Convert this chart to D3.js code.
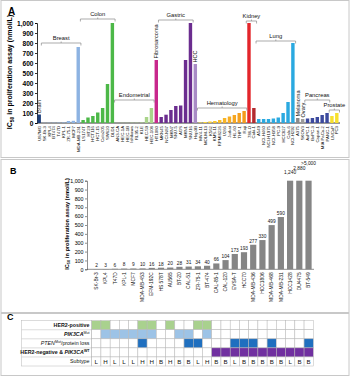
<!DOCTYPE html>
<html><head><meta charset="utf-8">
<script src="https://cdn.jsdelivr.net/npm/d3@7"></script>
<style>body{margin:0;background:#fff}svg{display:block;font-family:"Liberation Sans",Arial,sans-serif}</style>
</head><body><svg id="c" width="350" height="376"></svg>
<script>
// ---------------- Panel A data ----------------
const tissuesA = ["Brain","Breast","Colon","Endometrial","Fibrosarcoma","Gastric","HCC","Hematology","Kidney","Lung","Melanoma","Ovary","Pancreas","Prostate"];
const tissueCountsA = [1,8,7,8,1,7,1,10,2,8,1,1,5,2];
const tissueColorsA = [["#1d3f7c"],["#8db3e2"],["#4cb848"],["#a9d48a"],["#c8288c"],["#6b2d8f"],["#a98bc6"],
  ["#fce43a","#fbd935","#fad031","#f9c72d","#f8bd29","#f7b426","#f7ad23","#f6a620","#f5a01e","#f49a1c"],
  ["#e3262b","#b42a2f"],["#2aa9e0"],["#8a8a8a"],["#9b9b9b"],["#3c4a9e"],["#f7e02d"]];
const cellLinesA = ["U87MG",
  "SK-Br-3","KPL4","BT474","T47D","KPL-1","ZR-75-1","MCF7","MDA-MB-231",
  "LS174T","HT29","HCT116","HCT-15","Colo205","SW620","DLD1",
  "AN3-CA","HEC-1A","HEC-1B","Ishikawa","RL95-2","KLE","HEC-59","HEC-108",
  "HT1080",
  "MKN45","NCI-N87","MKN7","SNU-5","AGS","MKN1","SNU16",
  "Hep3B",
  "MV4-11","MOLM-13","K562","KMS-11","RPMI8226","U266","Jurkat","HL-60","THP-1","Raji",
  "786-O","Caki-1",
  "A549","NCI-H460","NCI-H1975","NCI-H358","PC-9","HCC827","Calu-6","NCI-H292",
  "A375","SKOV3",
  "AsPC-1","BxPC-3","Capan-1","MIA PaCa-2","PANC-1",
  "LNCaP","PC3"];
const valuesA = [85,
  2,3,3,4,5,20,22,760,
  30,55,70,105,150,390,1000,
  1,2,2,3,3,5,60,150,
  630,
  60,83,130,170,175,630,1000,
  590,
  5,10,15,20,30,50,65,80,100,120,
  1000,150,
  40,40,40,45,55,100,210,800,
  50,40,
  45,50,60,80,100,
  70,100];
const yTicksA = [0,100,200,300,400,500,600,700,800,900,1000];

// ---------------- Panel B data ----------------
const cellLinesB = ["SK-Br-3","KPL4","T47D","KPL-1","MCF7","MDA-MB-453","EFM-192C","HS 578T","AU565","BT-20","CAL-51","ZR-75-1","BT-474","CAL-85-1","CAL-120","EVSA-T","HCC70","MDA-MB-436","HCC1806","MDA-MB-468","MDA-MB-231","HCC1428","DU4475","BT-549"];
const valuesB = [2,3,6,8,9,10,16,18,20,28,31,34,40,66,104,173,193,277,330,499,590,1240,2880,5000];
const valueLabelsB = ["2","3","6","8","9","10","16","18","20","28","31","34","40","66","104","173","193","277","330","499","590","1,240","2,880",">5,000"];
const yTicksB = [0,100,200,300,400,500,600,700,800,900,1000];

// ---------------- Panel C data ----------------
const her2Positive = [1,1,0,0,0,1,1,0,1,0,0,1,1,0,0,0,0,0,0,0,0,0,0,0];
const pik3caMut    = [0,1,1,1,1,1,1,0,0,1,1,0,1,0,0,0,0,0,0,0,0,0,0,0];
const ptenLoss     = [0,0,0,0,0,1,0,0,0,0,1,1,0,0,0,1,1,1,0,1,0,0,0,1];
const her2NegWT    = [0,0,0,0,0,0,0,0,0,0,0,0,0,1,1,1,1,1,1,1,1,1,1,1];
const subtypes     = ["L","H","L","L","L","H","H","B","H","B","B","L","H","B","B","L","B","B","B","B","B","L","B","B"];

const svg = d3.select("#c");
const fmt = d3.format(",");

// frames
svg.append("rect").attr("x",1).attr("y",0.5).attr("width",348).attr("height",157).attr("fill","none").attr("stroke","#c8c8c8");
svg.append("rect").attr("x",1).attr("y",159.5).attr("width",348).attr("height",153).attr("fill","none").attr("stroke","#c8c8c8");
svg.append("rect").attr("x",1).attr("y",313.5).attr("width",348).attr("height",62).attr("fill","none").attr("stroke","#c8c8c8");

// panel letters
svg.append("text").attr("x",8).attr("y",15).attr("font-size",10).attr("font-weight","bold").text("A");
svg.append("text").attr("x",10).attr("y",174).attr("font-size",9).attr("font-weight","bold").text("B");
svg.append("text").attr("x",7).attr("y",320).attr("font-size",9).attr("font-weight","bold").text("C");

// ================= Panel A =================
const barsA = [];
{ let k = 0;
  tissuesA.forEach((t,gi)=>{
    for(let j=0;j<tissueCountsA[gi];j++){
      const cols = tissueColorsA[gi];
      barsA.push({name:cellLinesA[k], value:valuesA[k], tissue:t, gi, color:cols[j%cols.length]});
      k++;
    }
  });
}
const xA = d3.scaleBand().domain(d3.range(barsA.length)).range([37,339]).paddingInner(0.3).paddingOuter(0.1);
const yA = d3.scaleLinear().domain([0,1000]).range([123,23]);

const gA = svg.append("g");
gA.append("g").attr("transform","translate(37,0)")
  .call(d3.axisLeft(yA).tickValues(yTicksA).tickFormat(fmt).tickSize(2).tickPadding(1.5))
  .call(g=>g.selectAll("text").attr("font-size",6.6).attr("font-weight","bold").attr("font-family","Liberation Sans, Arial"))
  .call(g=>g.selectAll("line,path").attr("stroke","#000").attr("stroke-width",0.8));
gA.append("line").attr("x1",37).attr("x2",340).attr("y1",yA(0)).attr("y2",yA(0)).attr("stroke","#000").attr("stroke-width",0.8);

gA.selectAll("rect.b").data(barsA).join("rect").attr("class","b")
  .attr("x",(d,i)=>xA(i)).attr("width",xA.bandwidth())
  .attr("y",d=>yA(Math.min(d.value,1000))).attr("height",d=>yA(0)-yA(Math.min(d.value,1000)))
  .attr("fill",d=>d.color);

gA.selectAll("text.cl").data(barsA).join("text").attr("class","cl")
  .attr("transform",(d,i)=>`translate(${xA(i)+xA.bandwidth()/2+1.6},${yA(0)+3}) rotate(-90)`)
  .attr("text-anchor","end").attr("font-size",4.3).attr("fill","#111").text(d=>d.name);

// y title A
const tA = gA.append("text").attr("transform","translate(12,72) rotate(-90)").attr("text-anchor","middle")
  .attr("font-size",7).attr("font-weight","bold");
tA.append("tspan").text("IC");
tA.append("tspan").attr("font-size",5).attr("dy",1.8).text("50");
tA.append("tspan").attr("dy",-1.8).text(" in proliferation assay (nmol/L)");

// group labels
const groupRange = tissuesA.map((t,gi)=>{
  const idx = barsA.map((b,i)=>b.gi===gi?i:-1).filter(i=>i>=0);
  const x0 = xA(idx[0]), x1 = xA(idx[idx.length-1])+xA.bandwidth();
  const maxV = d3.max(idx,i=>Math.min(barsA[i].value,1000));
  return {t, x0, x1, maxV, n:idx.length};
});
const bracketY = {Breast:43, Colon:19, Endometrial:100, Gastric:20, Hematology:108, Kidney:21, Lung:41, Pancreas:100, Prostate:110};
const vertical = {Brain:1, Fibrosarcoma:1, HCC:1, Melanoma:1, Ovary:1};
groupRange.forEach(g=>{
  if (vertical[g.t]) {
    const cx = (g.x0+g.x1)/2;
    gA.append("text").attr("transform",`translate(${cx+2},${yA(g.maxV)-1.5}) rotate(-90)`)
      .attr("font-size",5.6).attr("fill","#111").text(g.t);
  } else {
    const by = bracketY[g.t];
    const x0 = g.x0-1, x1 = g.x1+1, xm=(x0+x1)/2;
    gA.append("path").attr("d",`M${x0},${by+2.5}V${by}H${x1}V${by+2.5}M${xm},${by}V${by-1.5}`)
      .attr("fill","none").attr("stroke","#888").attr("stroke-width",0.7);
    gA.append("text").attr("x",xm).attr("y",by-3).attr("text-anchor","middle").attr("font-size",5.8).attr("fill","#111").text(g.t);
  }
});

// ================= Panel B =================
const xB = d3.scaleBand().domain(cellLinesB).range([92,313]).paddingInner(0.33).paddingOuter(0.15);
const yB = d3.scaleLinear().domain([0,1000]).range([269.3,180.7]);
const gB = svg.append("g");
gB.append("g").attr("transform","translate(87,0)")
  .call(d3.axisLeft(yB).tickValues(yTicksB).tickFormat(fmt).tickSize(2).tickPadding(1.5))
  .call(g=>g.selectAll("text").attr("font-size",5.3).attr("font-family","Liberation Sans, Arial"))
  .call(g=>g.selectAll("line,path").attr("stroke","#444").attr("stroke-width",0.6));
gB.append("line").attr("x1",87).attr("x2",314).attr("y1",yB(0)).attr("y2",yB(0)).attr("stroke","#444").attr("stroke-width",0.6);
gB.selectAll("rect").data(cellLinesB).join("rect")
  .attr("x",d=>xB(d)).attr("width",xB.bandwidth())
  .attr("y",(d,i)=>yB(Math.min(valuesB[i],1000))).attr("height",(d,i)=>yB(0)-yB(Math.min(valuesB[i],1000)))
  .attr("fill","#858585");
gB.selectAll("text.v").data(cellLinesB).join("text").attr("class","v")
  .attr("x",d=>xB(d)+xB.bandwidth()/2)
  .attr("y",(d,i)=>{ const over = valuesB[i]>1000 ? (i-20)*4.5 : 0; return yB(Math.min(valuesB[i],1000))-2.2-over; })
  .attr("text-anchor","middle").attr("font-size",4.8).attr("fill","#111").text((d,i)=>valueLabelsB[i]);
gB.selectAll("text.cl").data(cellLinesB).join("text").attr("class","cl")
  .attr("transform",d=>`translate(${xB(d)+xB.bandwidth()/2+1.7},${yB(0)+3}) rotate(-90)`)
  .attr("text-anchor","end").attr("font-size",4.9).attr("fill","#111").text(d=>d);
const tB = gB.append("text").attr("transform","translate(69,224) rotate(-90)").attr("text-anchor","middle")
  .attr("font-size",5.6).attr("font-weight","bold");
tB.append("tspan").text("IC");
tB.append("tspan").attr("font-size",4).attr("dy",1.4).text("50");
tB.append("tspan").attr("dy",-1.4).text(" in proliferation assay (nmol/L)");

// ================= Panel C =================
const rowsC = [
  {vals:her2Positive, color:"#a9d18e"},
  {vals:pik3caMut, color:"#9dc3e6"},
  {vals:ptenLoss, color:"#1f6fbf"},
  {vals:her2NegWT, color:"#7030a0"},
  {vals:null}
];
const xC = d3.scaleBand().domain(d3.range(24)).range([91.7,313.3]);
const yC = d3.scaleBand().domain(d3.range(5)).range([320.7,366]);
const gC = svg.append("g");
rowsC.forEach((r,ri)=>{
  d3.range(24).forEach(ci=>{
    gC.append("rect").attr("x",xC(ci)).attr("y",yC(ri)).attr("width",xC.bandwidth()).attr("height",yC.bandwidth())
      .attr("fill", r.vals && r.vals[ci] ? r.color : "#fff").attr("stroke","#b8b8b8").attr("stroke-width",0.5);
  });
});
gC.selectAll("text.st").data(subtypes).join("text").attr("class","st")
  .attr("x",(d,i)=>xC(i)+xC.bandwidth()/2).attr("y",yC(4)+yC.bandwidth()/2+2.2)
  .attr("text-anchor","middle").attr("font-size",6.2).attr("fill","#111").text(d=>d);
gC.append("rect").attr("x",21.7).attr("y",320.7).attr("width",70).attr("height",45.3).attr("fill","none").attr("stroke","#b8b8b8").attr("stroke-width",0.5);
d3.range(1,5).forEach(ri=>gC.append("line").attr("x1",21.7).attr("x2",91.7).attr("y1",yC(ri)).attr("y2",yC(ri)).attr("stroke","#b8b8b8").attr("stroke-width",0.5));
const lab = (ri)=>gC.append("text").attr("x",89.5).attr("y",yC(ri)+yC.bandwidth()/2+2).attr("text-anchor","end").attr("font-size",5.3).attr("fill","#111");
lab(0).attr("font-weight","bold").text("HER2-positive");
{ const t = lab(1); t.append("tspan").attr("font-style","italic").attr("font-weight","bold").text("PIK3CA");
  t.append("tspan").attr("font-size",3.6).attr("dy",-2).text("Mut"); }
{ const t = lab(2); t.append("tspan").attr("font-style","italic").text("PTEN");
  t.append("tspan").attr("font-size",3.6).attr("dy",-2).text("Mut");
  t.append("tspan").attr("dy",2).text("/protein loss"); }
{ const t = lab(3).attr("font-weight","bold"); t.append("tspan").text("HER2-negative & ");
  t.append("tspan").attr("font-style","italic").text("PIK3CA");
  t.append("tspan").attr("font-size",3.6).attr("dy",-2).text("WT"); }
lab(4).text("Subtype");
</script></body></html>
